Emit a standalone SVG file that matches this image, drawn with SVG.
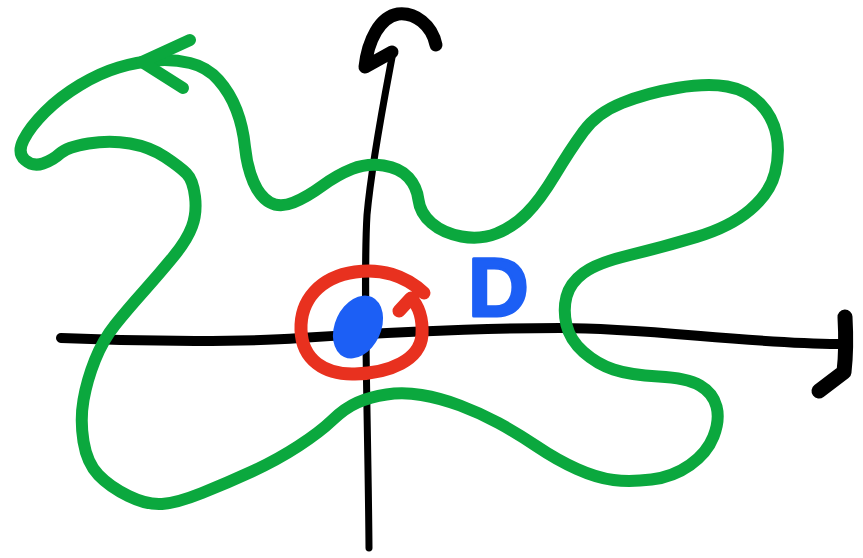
<svg xmlns="http://www.w3.org/2000/svg" width="863" height="558" viewBox="0 0 863 558">
<style>
.ink{fill:none;stroke-linecap:round;stroke-linejoin:round}
.axis{stroke:#000}
.green{stroke:#0ba83e;stroke-width:12}
.red{stroke:#e8311f;stroke-width:13}
.blue{fill:#1c5ff5}
.lbl{font-family:"Liberation Sans",Arial,sans-serif;font-weight:bold;font-size:84px;fill:#1c5ff5;stroke:#1c5ff5;stroke-width:3;stroke-linejoin:round}
</style>
<rect width="863" height="558" fill="#fff"/>
<g id="axes">
  <path class="ink axis" stroke-width="10" d="M 61,338 C 150,342 250,342 300,338 C 380,333 480,328 560,328 C 650,328 740,343 838,344"/>
  <path class="ink axis" stroke-width="15" d="M 845,317 C 846,335 846,355 844,372 L 819,391"/>
  <path class="ink axis" stroke-width="7" d="M 393,52 C 385,95 372,160 367,215 C 363,280 368,420 369,548"/>
  <path class="ink axis" stroke-width="13" d="M 436,45 C 432,25 415,12 398,14 C 380,17 368,40 365,67 L 392,52"/>
</g>
<g id="curve">
  <path class="ink green" d="M 155,60.5 Q 173,59 190,63 Q 207,67 218.5,80 Q 230,93 236.5,110 Q 243,127 245,147 Q 247,167 253.5,182 Q 260,197 270,202.5 Q 280,208 293.5,202.5 Q 307,197 322,186 Q 337,175 352,169 Q 367,163 383.5,165.5 Q 400,168 408.5,177.5 Q 417,187 418.5,200 Q 420,213 431.5,223 Q 443,233 461.5,236.5 Q 480,240 496.5,233.5 Q 513,227 526.5,213.5 Q 540,200 555,175 Q 570,150 583.5,131.5 Q 597,113 622,103 Q 647,93 677,88 Q 707,83 727,86.5 Q 747,90 760,103.5 Q 773,117 776.5,135 Q 780,153 775,173 Q 770,193 750,210 Q 730,227 696.5,237 Q 663,247 630,255 Q 597,263 583.5,273 Q 570,283 566.5,296.5 Q 563,310 566.5,325 Q 570,340 583.5,352 Q 597,364 613.5,369.5 Q 630,375 658.5,376.5 Q 687,378 700,385.5 Q 713,393 716.5,406.5 Q 720,420 713.5,436.5 Q 707,453 690,465 Q 673,477 651.5,479.5 Q 630,482 613.5,480 Q 597,478 577,469 Q 557,460 537,446.5 Q 517,433 498.5,423 Q 480,413 460,405.5 Q 440,398 421.5,395 Q 403,392 386.5,394.5 Q 370,397 357.5,402.5 Q 345,408 332.5,420 Q 320,432 298.5,446 Q 277,460 252,471.5 Q 227,483 202,493 Q 177,503 162,504 Q 147,505 128.5,496 Q 110,487 98.5,475 Q 87,463 83.5,441.5 Q 80,420 83.5,400 Q 87,380 95,360 Q 103,340 115,325 Q 127,310 143.5,291.5 Q 160,273 173.5,256.5 Q 187,240 192,226.5 Q 197,213 195,196.5 Q 193,180 186.5,173.5 Q 180,167 165,157 Q 150,147 130,143.5 Q 110,140 88.5,143.5 Q 67,147 60,153.5 Q 53,160 43,163.5 Q 33,167 25,160 Q 17,153 23.5,140 Q 30,127 45,112 Q 60,97 80,85 Q 100,73 118.5,67.5 Q 137,62 155,60.5 Z"/>
  <path class="ink green" stroke-width="13" d="M 190,40 L 142,62 L 183,88"/>
</g>
<g id="loop">
  <path class="ink red" d="M 424,293 C 405,275 380,268 355,272 C 320,277 300,300 301,330 C 302,360 325,375 355,374 C 390,373 420,360 422,335 C 423,318 418,305 411,298 L 399,311"/>
</g>
<g id="point">
  <ellipse class="blue" cx="358" cy="327" rx="23" ry="33" transform="rotate(25 358 327)"/>
</g>
<g id="label">
  <text class="lbl" x="468" y="316">D</text>
</g>
</svg>
